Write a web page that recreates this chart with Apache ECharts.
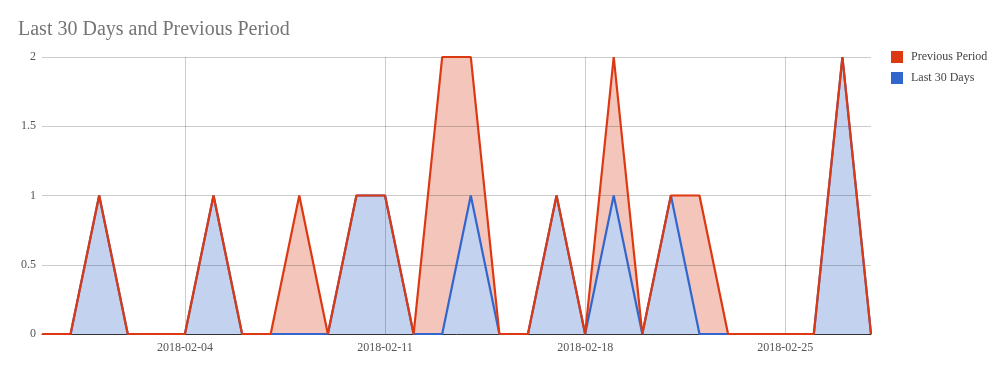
<!DOCTYPE html>
<html>
<head>
<meta charset="utf-8">
<script src="https://cdn.jsdelivr.net/npm/echarts@6/dist/echarts.min.js"></script>
<style>html,body{margin:0;padding:0;background:#fff}#c{width:1006px;height:371px}</style>
</head>
<body>
<div id="c"></div>
<script>
const dates = ['2018-01-30','2018-01-31','2018-02-01','2018-02-02','2018-02-03','2018-02-04','2018-02-05','2018-02-06','2018-02-07','2018-02-08','2018-02-09','2018-02-10','2018-02-11','2018-02-12','2018-02-13','2018-02-14','2018-02-15','2018-02-16','2018-02-17','2018-02-18','2018-02-19','2018-02-20','2018-02-21','2018-02-22','2018-02-23','2018-02-24','2018-02-25','2018-02-26','2018-02-27','2018-02-28'];
const previousPeriod = [0,0,1,0,0,0,1,0,0,1,0,1,1,0,2,2,0,0,1,0,2,0,1,1,0,0,0,0,2,0];
const last30Days     = [0,0,1,0,0,0,1,0,0,0,0,1,1,0,0,1,0,0,1,0,1,0,1,0,0,0,0,0,2,0];
const yTicks = [0, 0.5, 1, 1.5, 2];

const FONT = '"Liberation Serif", "Times New Roman", serif';
const RED = '#dc3912', BLUE = '#3366cc';
const showIdx = (i) => i % 7 === 5;

const chart = echarts.init(document.getElementById('c'), null, {renderer: 'canvas'});
chart.setOption({
  animation: false,
  backgroundColor: '#fff',
  title: {
    text: 'Last 30 Days and Previous Period',
    left: 13, top: 15,
    textStyle: {fontFamily: FONT, fontSize: 20, fontWeight: 'normal', color: '#757575'}
  },
  legend: {
    orient: 'vertical', left: 891, top: 51, padding: 0,
    itemWidth: 12, itemHeight: 12, itemGap: 9, icon: 'rect',
    data: [
      {name: 'Previous Period', itemStyle: {color: RED}},
      {name: 'Last 30 Days', itemStyle: {color: BLUE}}
    ],
    textStyle: {fontFamily: FONT, fontSize: 12, color: '#444', padding: [0,0,0,3]}
  },
  grid: {left: 42, right: 135, top: 57, bottom: 37, containLabel: false},
  xAxis: {
    type: 'category', data: dates, boundaryGap: false, z: 3,
    axisLine: {show: true, lineStyle: {color: '#333', width: 1}},
    axisTick: {show: false},
    axisLabel: {interval: (i) => showIdx(i), margin: 8, fontFamily: FONT, fontSize: 12, color: '#555'},
    splitLine: {show: true, interval: (i) => showIdx(i), lineStyle: {color: 'rgba(0,0,0,0.2)', width: 1}}
  },
  yAxis: {
    type: 'value', min: yTicks[0], max: yTicks[yTicks.length-1], interval: 0.5, z: 3,
    axisLine: {show: false}, axisTick: {show: false},
    axisLabel: {margin: 6, fontFamily: FONT, fontSize: 12, color: '#555'},
    splitLine: {show: true, lineStyle: {color: 'rgba(0,0,0,0.2)', width: 1}}
  },
  series: [
    {name: 'Previous Period', type: 'line', data: previousPeriod, z: 1, showSymbol: false, symbol: 'none',
     lineStyle: {width: 0, opacity: 0}, itemStyle: {color: RED}, areaStyle: {color: '#f4c6bb', opacity: 1}},
    {name: 'Last 30 Days', type: 'line', data: last30Days, z: 2, showSymbol: false, symbol: 'none',
     lineStyle: {width: 0, opacity: 0}, itemStyle: {color: BLUE}, areaStyle: {color: '#c3d3ef', opacity: 1}},
    {name: 'Last 30 Days', type: 'line', data: last30Days, z: 4, showSymbol: false, symbol: 'none',
     lineStyle: {width: 2.2, color: BLUE}, itemStyle: {color: BLUE}},
    {name: 'Previous Period', type: 'line', data: previousPeriod, z: 5, showSymbol: false, symbol: 'none',
     lineStyle: {width: 2.2, color: RED}, itemStyle: {color: RED}}
  ]
});
</script>
</body>
</html>
